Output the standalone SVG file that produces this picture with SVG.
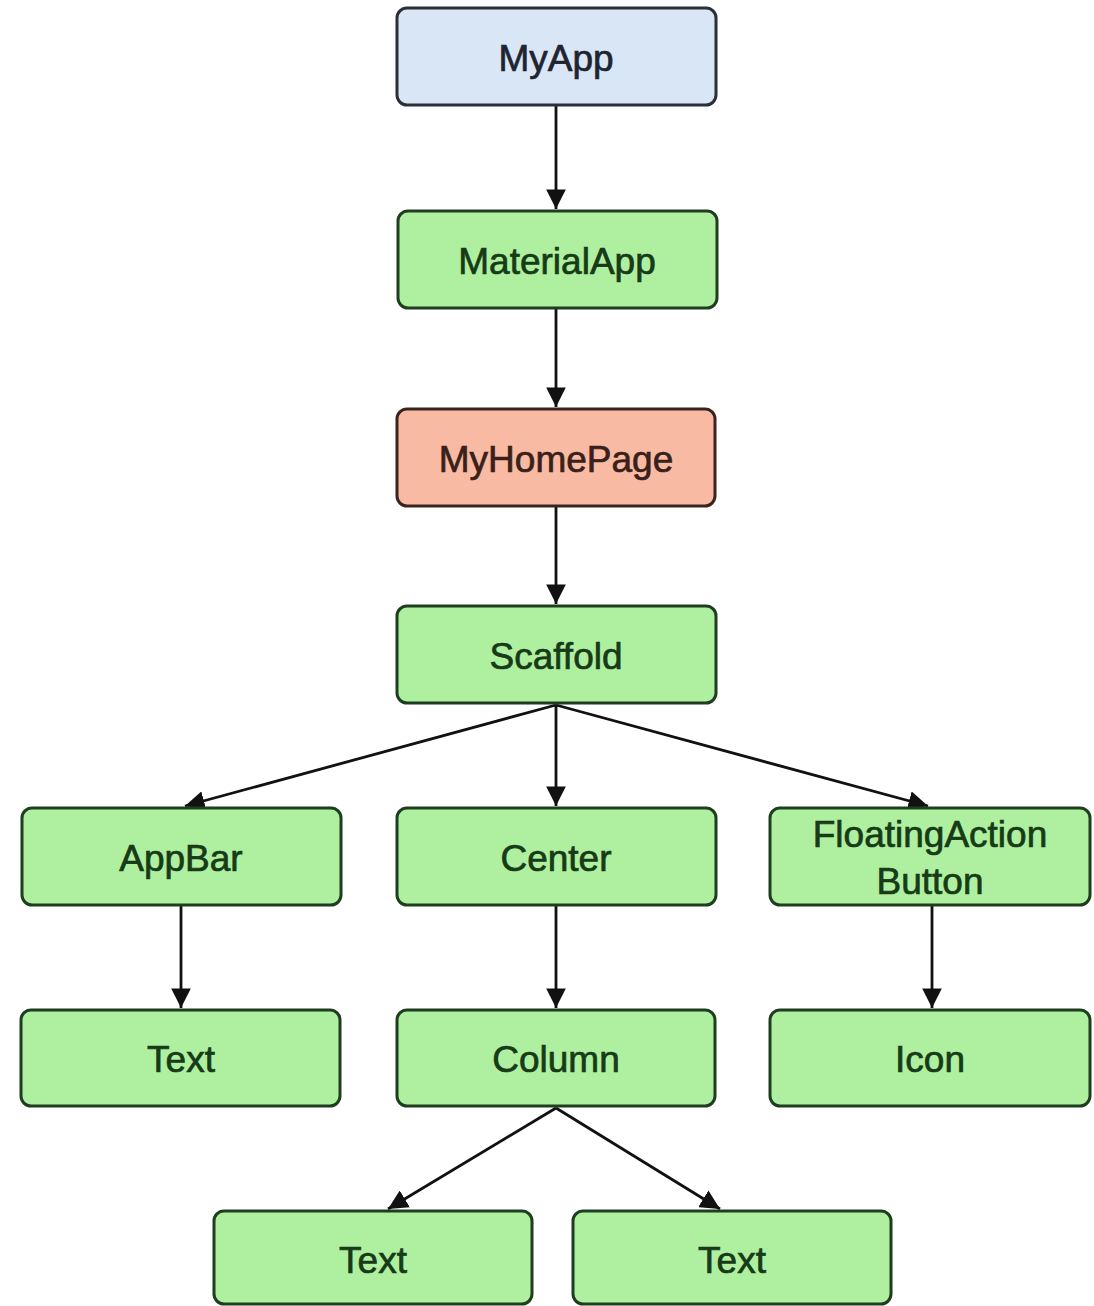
<svg xmlns="http://www.w3.org/2000/svg" width="1094" height="1306" viewBox="0 0 1094 1306">
<style>
  .box rect { stroke-width: 3; }
  .g rect { fill: #aef0a0; stroke: #1f3d1f; }
  .g text { fill: #173a17; stroke: #173a17; }
  .b rect { fill: #d8e6f6; stroke: #2a2f38; }
  .b text { fill: #1e2430; stroke: #1e2430; }
  .r rect { fill: #f8baa2; stroke: #3a2420; }
  .r text { fill: #3a1f1a; stroke: #3a1f1a; }
  text { font-family: "Liberation Sans", Arial, sans-serif; font-size: 37px; text-anchor: middle; stroke-width: 0.7; }
  .edges line { stroke: #111; stroke-width: 2.8; fill: none; marker-end: url(#arr); }
</style>
<defs>
  <marker id="arr" viewBox="0 0 10 10" refX="10" refY="5" markerWidth="7" markerHeight="7" markerUnits="strokeWidth" orient="auto">
    <path d="M0,0 L10,5 L0,10 z" fill="#111"/>
  </marker>
</defs>
<rect width="1094" height="1306" fill="#ffffff"/>
<g class="edges">
  <line x1="556" y1="106" x2="556" y2="209"/>
  <line x1="556" y1="309" x2="556" y2="407"/>
  <line x1="556" y1="507" x2="556" y2="604"/>
  <line x1="556" y1="705" x2="185" y2="806"/>
  <line x1="556" y1="705" x2="556" y2="806"/>
  <line x1="556" y1="705" x2="928" y2="806"/>
  <line x1="181" y1="906" x2="181" y2="1008"/>
  <line x1="556" y1="906" x2="556" y2="1008"/>
  <line x1="932" y1="906" x2="932" y2="1008"/>
  <line x1="556" y1="1108" x2="388" y2="1209"/>
  <line x1="556" y1="1108" x2="720" y2="1209"/>
</g>
<g id="myapp" class="box b"><rect x="397" y="8" width="319" height="97" rx="10"/><text x="556" y="71">MyApp</text></g>
<g id="materialapp" class="box g"><rect x="398" y="211" width="319" height="97" rx="10"/><text x="557" y="274">MaterialApp</text></g>
<g id="myhomepage" class="box r"><rect x="397" y="409" width="318" height="97" rx="10"/><text x="556" y="472">MyHomePage</text></g>
<g id="scaffold" class="box g"><rect x="397" y="606" width="319" height="97" rx="10"/><text x="556" y="669">Scaffold</text></g>
<g id="appbar" class="box g"><rect x="22" y="808" width="319" height="97" rx="10"/><text x="181" y="871">AppBar</text></g>
<g id="center" class="box g"><rect x="397" y="808" width="319" height="97" rx="10"/><text x="556" y="871">Center</text></g>
<g id="fab" class="box g"><rect x="770" y="808" width="320" height="97" rx="10"/><text x="930" y="847">FloatingAction</text><text x="930" y="894">Button</text></g>
<g id="text1" class="box g"><rect x="21" y="1010" width="319" height="96" rx="10"/><text x="181" y="1072">Text</text></g>
<g id="column" class="box g"><rect x="397" y="1010" width="318" height="96" rx="10"/><text x="556" y="1072">Column</text></g>
<g id="icon" class="box g"><rect x="770" y="1010" width="320" height="96" rx="10"/><text x="930" y="1072">Icon</text></g>
<g id="text2" class="box g"><rect x="214" y="1211" width="318" height="93" rx="10"/><text x="373" y="1273">Text</text></g>
<g id="text3" class="box g"><rect x="573" y="1211" width="318" height="93" rx="10"/><text x="732" y="1273">Text</text></g>
</svg>
